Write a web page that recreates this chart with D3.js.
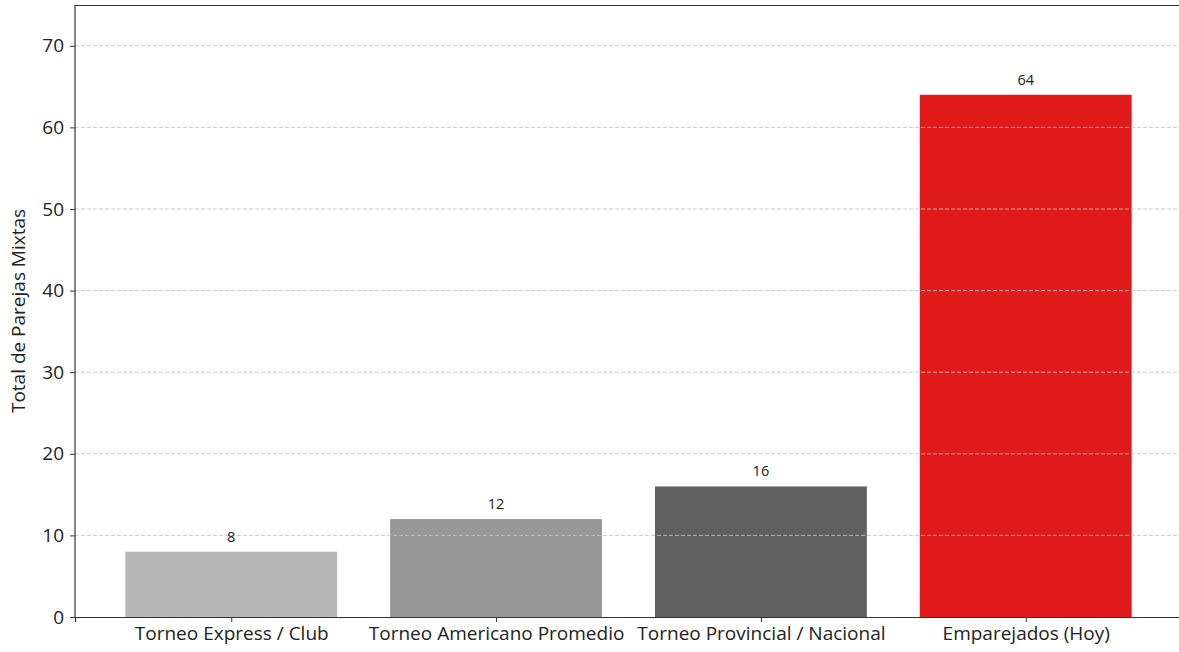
<!DOCTYPE html>
<html>
<head>
<meta charset="utf-8">
<script src="https://cdn.jsdelivr.net/npm/d3@7"></script>
<style>
  body { margin: 0; background: #fff; }
  svg { display: block; font-family: "Open Sans", Roboto, sans-serif; }
</style>
</head>
<body>
<div id="chart"></div>
<script>
// data
var categories = ['Torneo Express / Club', 'Torneo Americano Promedio', 'Torneo Provincial / Nacional', 'Emparejados (Hoy)'];
var values = [8, 12, 16, 64];
var barColors = ['#b8b8b8', '#969696', '#606060', '#e0191b'];
var yTicks = [0, 10, 20, 30, 40, 50, 60, 70];

var width = 1179, height = 652;
var margin = {left: 75, top: 5, right: -3, bottom: 35};

var svg = d3.select('#chart').append('svg').attr('width', width).attr('height', height);

var x = d3.scaleLinear().domain([-0.59, categories.length - 1 + 0.59]).range([margin.left, width - margin.right]);
var y = d3.scaleLinear().domain([0, 75]).range([height - margin.bottom, margin.top]);
var barW = x(0.8) - x(0);

// bars
svg.append('g').selectAll('rect').data(values).enter().append('rect')
    .attr('x', (d, i) => x(i) - barW / 2)
    .attr('width', barW)
    .attr('y', d => y(d))
    .attr('height', d => y(0) - y(d))
    .attr('fill', (d, i) => barColors[i]);

// grid on top of bars
svg.append('g').selectAll('line').data(yTicks.slice(1)).enter().append('line')
    .attr('x1', margin.left).attr('x2', width)
    .attr('y1', d => y(d)).attr('y2', d => y(d))
    .attr('stroke', '#c4c4c4').attr('stroke-opacity', 0.85)
    .attr('stroke-width', 1).attr('stroke-dasharray', '4,2');

// value labels
svg.append('g').selectAll('text').data(values).enter().append('text')
    .attr('x', (d, i) => x(i))
    .attr('y', d => y(d) - 10)
    .attr('text-anchor', 'middle')
    .attr('font-size', 14.5)
    .attr('fill', '#222')
    .text(d => d);

// axes
var yAxis = svg.append('g').attr('transform', `translate(${margin.left},0)`)
    .call(d3.axisLeft(y).tickValues(yTicks).tickSize(5).tickPadding(6));
var xAxis = svg.append('g').attr('transform', `translate(0,${y(0)})`)
    .call(d3.axisBottom(x).tickValues(d3.range(categories.length)).tickFormat(i => categories[i]).tickSize(5).tickPadding(5));

[yAxis, xAxis].forEach(a => {
    a.select('.domain').attr('stroke', '#333').attr('stroke-width', 1.2);
    a.selectAll('.tick line').attr('stroke', '#333');
    a.selectAll('.tick text').attr('fill', '#222').attr('font-size', 19).attr('font-family', '"Open Sans", sans-serif');
});
yAxis.select('.domain').attr('d', `M0,${y(0)}V${margin.top}`);

// top spine
svg.append('line').attr('x1', margin.left).attr('x2', width)
    .attr('y1', margin.top + 0.5).attr('y2', margin.top + 0.5)
    .attr('stroke', '#333').attr('stroke-width', 1.2);

// y label
svg.append('text')
    .attr('transform', `translate(25,${(y(0) + margin.top) / 2})rotate(-90)`)
    .attr('text-anchor', 'middle')
    .attr('font-size', 19)
    .attr('fill', '#222')
    .text('Total de Parejas Mixtas');
</script>
</body>
</html>
